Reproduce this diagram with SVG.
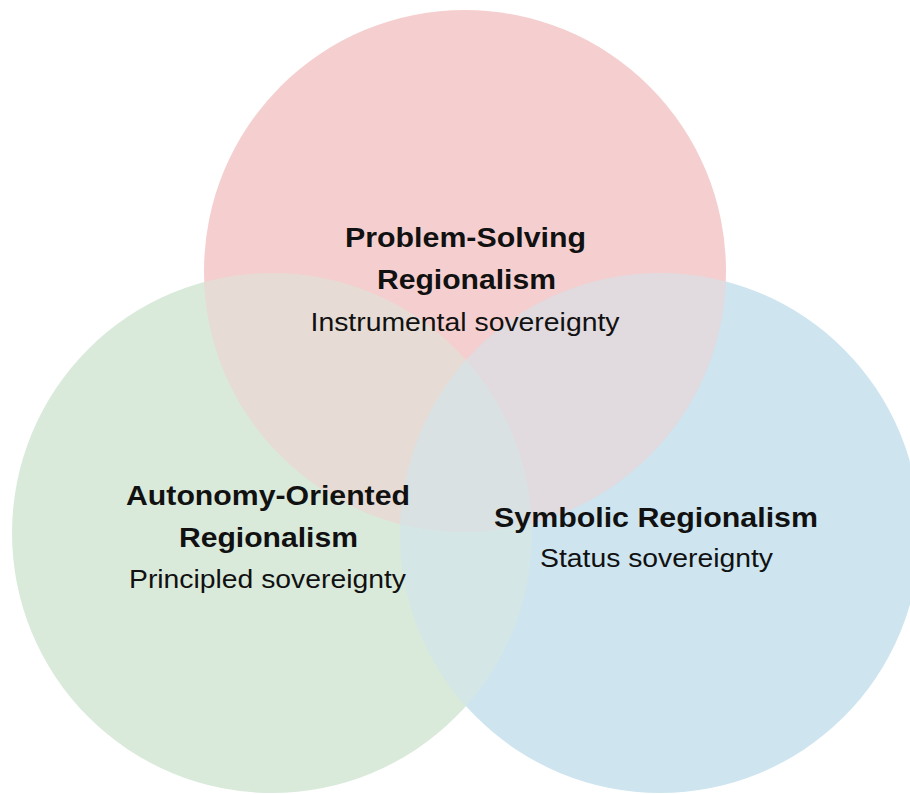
<svg xmlns="http://www.w3.org/2000/svg" width="910" height="794" viewBox="0 0 910 794">
  <style>
    .title { font-family: "Liberation Sans", Arial, sans-serif; font-weight: bold; font-size: 27px; fill: #111; text-anchor: middle; }
    .sub { font-family: "Liberation Sans", Arial, sans-serif; font-size: 25px; fill: #111; text-anchor: middle; }
    .half { opacity: 0.5; }
  </style>
  <defs>
    <circle id="c-green" cx="272" cy="533" r="260"/>
    <circle id="c-blue" cx="660" cy="533" r="260"/>
    <circle id="c-red" cx="465" cy="271" r="261"/>
    <clipPath id="clip-blue-red">
      <use href="#c-blue"/>
      <use href="#c-red"/>
    </clipPath>
    <clipPath id="clip-red">
      <use href="#c-red"/>
    </clipPath>
  </defs>
  <rect width="910" height="794" fill="#ffffff"/>
  <g id="autonomy-oriented">
    <use href="#c-green" fill="#d9eadb"/>
  </g>
  <g id="symbolic">
    <use href="#c-blue" fill="#cee5f0"/>
  </g>
  <g id="problem-solving">
    <use href="#c-red" fill="#f5cfcf"/>
  </g>
  <!-- overlaps: mix the colours of the sets that meet -->
  <g id="overlaps">
    <use href="#c-green" fill="#d9eadb" class="half" clip-path="url(#clip-blue-red)"/>
    <use href="#c-blue" fill="#cee5f0" class="half" clip-path="url(#clip-red)"/>
  </g>
  <g id="labels">
    <text class="title" x="465.5" y="247" textLength="241" lengthAdjust="spacingAndGlyphs">Problem-Solving</text>
    <text class="title" x="466.5" y="289" textLength="179" lengthAdjust="spacingAndGlyphs">Regionalism</text>
    <text class="sub" x="465" y="331" textLength="309" lengthAdjust="spacingAndGlyphs">Instrumental sovereignty</text>
    <text class="title" x="268" y="505" textLength="284" lengthAdjust="spacingAndGlyphs">Autonomy-Oriented</text>
    <text class="title" x="268.5" y="547" textLength="179" lengthAdjust="spacingAndGlyphs">Regionalism</text>
    <text class="sub" x="267.5" y="588" textLength="277" lengthAdjust="spacingAndGlyphs">Principled sovereignty</text>
    <text class="title" x="656" y="527" textLength="324" lengthAdjust="spacingAndGlyphs">Symbolic Regionalism</text>
    <text class="sub" x="656.5" y="567" textLength="233" lengthAdjust="spacingAndGlyphs">Status sovereignty</text>
  </g>
</svg>
